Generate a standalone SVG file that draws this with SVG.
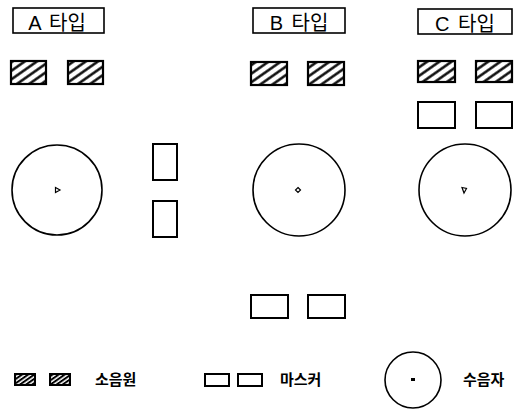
<svg xmlns="http://www.w3.org/2000/svg" width="526" height="409" viewBox="0 0 526 409">
<defs>
<pattern id="hatch" patternUnits="userSpaceOnUse" width="7" height="7" patternTransform="rotate(-35)">
<rect width="7" height="7" fill="#fff"/>
<line x1="0" y1="1.5" x2="7" y2="1.5" stroke="#000" stroke-width="2.4"/>
</pattern>
<pattern id="hatchS" patternUnits="userSpaceOnUse" width="3.5" height="3.5" patternTransform="rotate(-35)">
<rect width="3.5" height="3.5" fill="#fff"/>
<line x1="0" y1="1" x2="3.5" y2="1" stroke="#000" stroke-width="2"/>
</pattern>
</defs>
<style>
.lbl{fill:#fff;stroke:#000;stroke-width:1.6}
.title{font-family:"Liberation Sans","Noto Sans CJK KR",sans-serif;font-size:20px;fill:#000;text-anchor:middle;word-spacing:3px}
.src{fill:url(#hatch);stroke:#000;stroke-width:2.2}
.srcS{fill:url(#hatchS);stroke:#000;stroke-width:2}
.mask{fill:#fff;stroke:#000;stroke-width:2}
.rcv{fill:#fff;stroke:#000;stroke-width:1.6}
.dot{fill:#fff;stroke:#000;stroke-width:1.2}
.leg{font-family:"Noto Sans CJK KR",sans-serif;font-size:15px;font-weight:bold;fill:#000}
</style>
<rect width="526" height="409" fill="#fff"/>

<g id="typeA">
<rect class="lbl" x="13" y="8" width="91" height="25"/>
<text class="title" x="57" y="30">A 타입</text>
<rect class="src" x="11" y="61" width="35" height="23"/>
<rect class="src" x="68" y="61" width="35" height="23"/>
<circle class="rcv" cx="57" cy="190" r="45"/>
<path class="dot" d="M55.5 187.5 L60 190 L55.5 192.5 Z"/>
<rect class="mask" x="153" y="144" width="24" height="36"/>
<rect class="mask" x="153" y="201" width="24" height="36"/>
</g>

<g id="typeB">
<rect class="lbl" x="253" y="8" width="92" height="25"/>
<text class="title" x="299" y="30">B 타입</text>
<rect class="src" x="251" y="62" width="36" height="23"/>
<rect class="src" x="308" y="62" width="36" height="23"/>
<circle class="rcv" cx="299" cy="190" r="46"/>
<path class="dot" d="M298 187.5 L300.5 190 L298 192.5 L295.5 190 Z"/>
<rect class="mask" x="251" y="295" width="37" height="23"/>
<rect class="mask" x="308" y="295" width="37" height="23"/>
</g>

<g id="typeC">
<rect class="lbl" x="418" y="9" width="94" height="25"/>
<text class="title" x="465" y="31">C 타입</text>
<rect class="src" x="418" y="61" width="37" height="21"/>
<rect class="src" x="476" y="61" width="36" height="21"/>
<rect class="mask" x="418" y="102" width="37" height="26"/>
<rect class="mask" x="476" y="102" width="36" height="26"/>
<circle class="rcv" cx="465" cy="190" r="46"/>
<path class="dot" d="M462 187.5 L466.5 188.5 L464 193 Z"/>
</g>

<g id="legend">
<rect class="srcS" x="15" y="374" width="20" height="11"/>
<rect class="srcS" x="50" y="374" width="20" height="11"/>
<text class="leg" x="95" y="385">소음원</text>
<rect class="mask" x="205" y="374" width="24" height="12"/>
<rect class="mask" x="238" y="374" width="24" height="12"/>
<text class="leg" x="280" y="385">마스커</text>
<circle class="rcv" cx="413" cy="380" r="28"/>
<rect x="411" y="378" width="4" height="3" fill="#000"/>
<text class="leg" x="463" y="385">수음자</text>
</g>
</svg>
